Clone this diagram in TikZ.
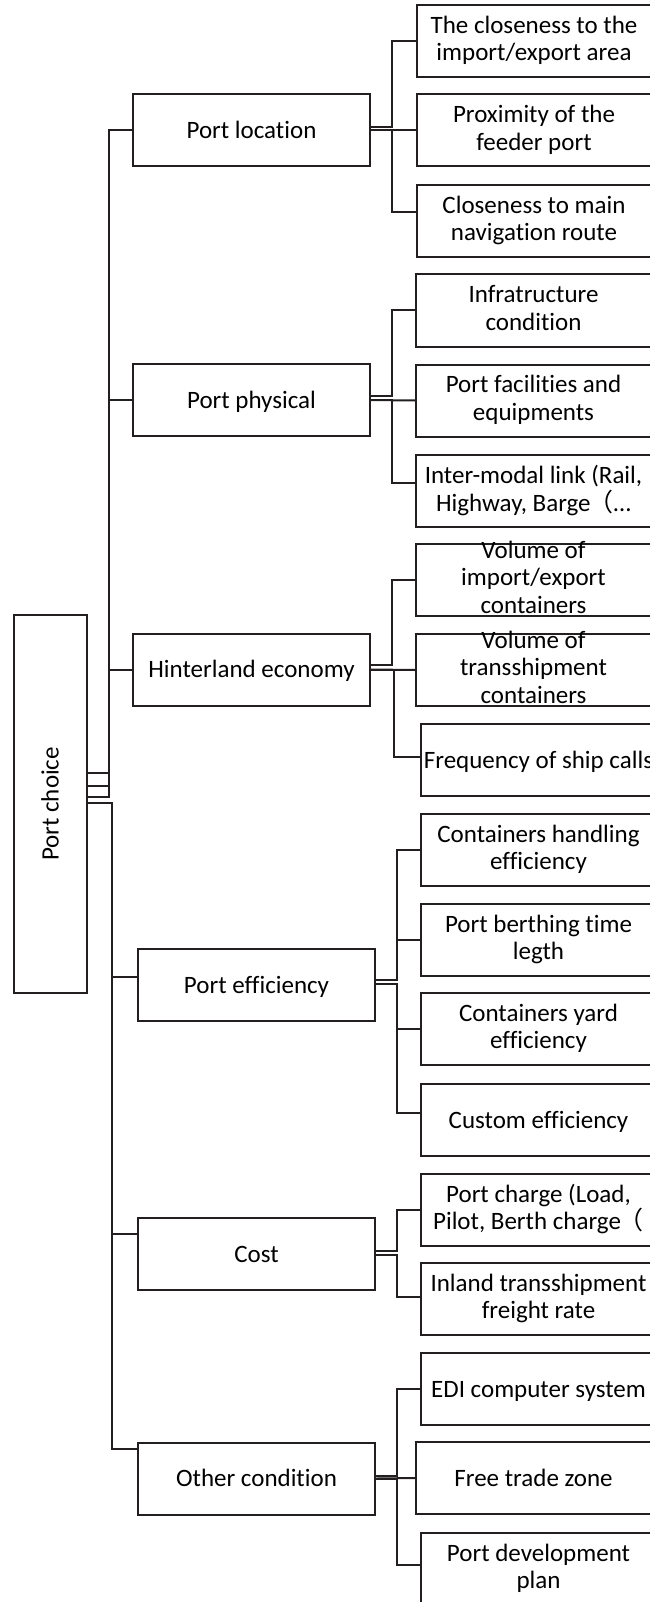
\documentclass[tikz,border=0pt]{standalone}
\usepackage{fontspec}
\setmainfont{Carlito}[Ligatures={NoCommon,NoContextual}]
\newfontfamily\cjkfont{Noto Sans CJK SC}
\usepackage{graphicx}
\definecolor{lc}{RGB}{35,31,32}
\newcommand\mystrut{\rule[-5.5pt]{0pt}{27.5pt}}
\newcommand\rotstrut{\rule[-5.75pt]{0pt}{27.5pt}}
\newcommand\wparen{\kern-2pt{\cjkfont （}}
\tikzset{
  frame/.style={draw=lc, line width=2pt, inner sep=0pt, minimum height=72pt,
    text=black, font=\fontsize{25}{27.5}\selectfont, align=center},
  box/.style={frame, execute at begin node=\mystrut, execute at end node=\mystrut},
  txt/.style={inner sep=0pt, text=black, font=\fontsize{25}{27.5}\selectfont, align=center,
    execute at begin node=\mystrut, execute at end node=\mystrut},
  wa/.style={minimum width=237pt},
  wb/.style={minimum width=235pt},
  conn/.style={draw=lc, line width=2pt}
}
\begin{document}
\begin{tikzpicture}[x=1pt,y=-1pt]
\useasboundingbox (0,0) rectangle (649,1602);

% root
\node[frame, minimum width=73pt, minimum height=378pt] (root) at (50.5,804)
  {\rotatebox{90}{\rotstrut Port choice}};

% level 1
\node[box,wa] (pl) at (251.5,130.5) {Port location};
\node[box,wa] (pp) at (251.5,400) {Port physical};
\node[box,wa] (he) at (251.5,669.5) {Hinterland economy};
\node[box,wa] (pe) at (256.5,985) {Port efficiency};
\node[box,wa] (co) at (256.5,1254) {Cost};
\node[box,wa] (oc) at (256.5,1478.5) {Other condition};

% level 2
\node[box,wb] (a1) at (534,41) {The closeness to the\\import/export area};
\node[box,wb] (a2) at (534,130.5) {Proximity of the\\feeder port};
\node[box,wb] (a3) at (534,221) {Closeness to main\\navigation route};

\node[box,wb] (b1) at (533.5,310.5) {Infratructure\\condition};
\node[box,wb] (b2) at (533.5,400.5) {Port facilities and\\equipments};
\node[box,wb] (b3) at (533.5,491) {Inter-modal link (Rail,\\Highway, Barge\wparen…};

\node[box,wb] (h1) at (533.5,580) {};
\node[txt] (h1t) at (h1.center) {Volume of\\import/export\\containers};
\node[box,wb] (h2) at (533.5,670) {};
\node[txt] (h2t) at (h2.center) {Volume of\\transshipment\\containers};
\node[box,wb] (h3) at (538.5,760) {Frequency of ship calls};

\node[box,wb] (e1) at (538.5,850) {Containers handling\\efficiency};
\node[box,wb] (e2) at (538.5,940) {Port berthing time\\legth};
\node[box,wb] (e3) at (538.5,1029) {Containers yard\\efficiency};
\node[box,wb] (e4) at (538.5,1120) {Custom efficiency};

\node[box,wb] (k1) at (538.5,1209.5) {Port charge (Load,\\Pilot, Berth charge\wparen};
\node[box,wb] (k2) at (538.5,1299) {Inland transshipment\\freight rate};

\node[box,wb] (o1) at (538.5,1389) {EDI computer system};
\node[box,wb] (o2) at (533.5,1478) {Free trade zone};
\node[box,wb] (o3) at (538.5,1569) {Port development\\plan};

% root connectors
\draw[conn] ([yshift=31pt]root.east) -- ++(21,0) |- (pl.west);
\draw[conn] ([yshift=18pt]root.east) -- ++(21,0) |- (pp.west);
\draw[conn] ([yshift=7pt]root.east) -- ++(21,0) |- (he.west);
\draw[conn] ([yshift=1pt]root.east) -- ++(23.5,0) |- ([yshift=8pt]pe.west);
\draw[conn] ([yshift=1pt]root.east) -- ++(23.5,0) |- ([yshift=20pt]co.west);
\draw[conn] ([yshift=1pt]root.east) -- ++(23.5,0) |- ([yshift=29.5pt]oc.west);

% port location
\draw[conn] ([yshift=3.5pt]pl.east) -- ++(21,0) |- (a1.west);
\draw[conn] (pl.east) -- (a2.west);
\draw[conn] (pl.east) -- ++(21,0) |- ([yshift=9pt]a3.west);

% port physical
\draw[conn] ([yshift=4pt]pp.east) -- ++(21,0) |- (b1.west);
\draw[conn] (pp.east) -- (b2.west);
\draw[conn] (pp.east) -- ++(21,0) |- ([yshift=8pt]b3.west);

% hinterland
\draw[conn] ([yshift=4.5pt]he.east) -- ++(21,0) |- (h1.west);
\draw[conn] (he.east) -- (h2.west);
\draw[conn] (he.east) -- ++(23,0) |- ([yshift=3pt]h3.west);

% port efficiency
\draw[conn] ([yshift=5pt]pe.east) -- ++(21,0) |- (e1.west);
\draw[conn] ([yshift=5pt]pe.east) -- ++(21,0) |- (e2.west);
\draw[conn] ([yshift=1pt]pe.east) -- ++(21,0) |- (e3.west);
\draw[conn] ([yshift=1pt]pe.east) -- ++(21,0) |- ([yshift=7pt]e4.west);

% cost
\draw[conn] ([yshift=3pt]co.east) -- ++(21,0) |- (k1.west);
\draw[conn] ([yshift=-1pt]co.east) -- ++(21,0) |- ([yshift=2pt]k2.west);

% other condition
\draw[conn] ([yshift=2.5pt]oc.east) -- ++(21,0) |- (o1.west);
\draw[conn] (oc.east) -- (o2.west);
\draw[conn] (oc.east) -- ++(21,0) |- ([yshift=4pt]o3.west);
\end{tikzpicture}
\end{document}
